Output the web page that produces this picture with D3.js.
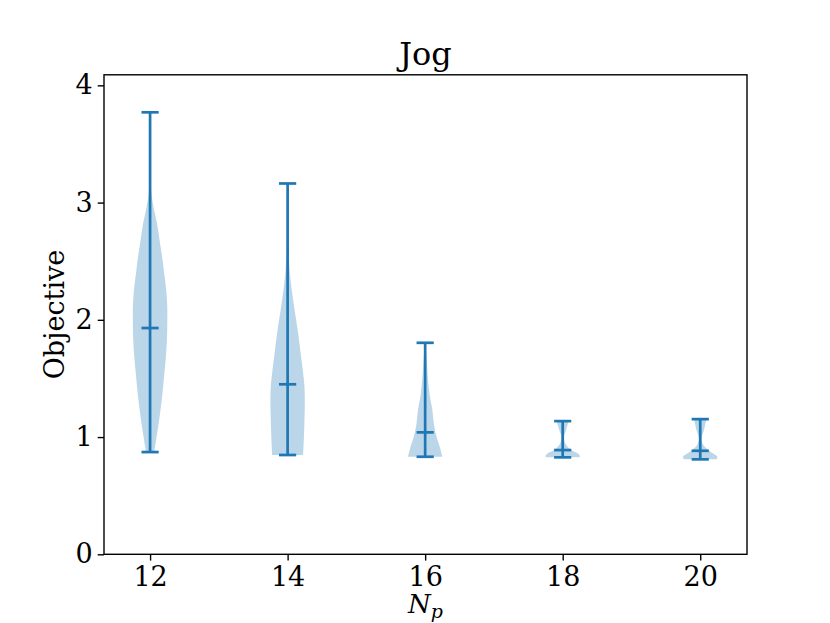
<!DOCTYPE html>
<html>
<head>
<meta charset="utf-8">
<script src="https://cdn.jsdelivr.net/npm/d3@7"></script>
<style>
  body { margin: 0; background: #fff; }
  svg text { font-family: "DejaVu Serif", serif; fill: #000; }
</style>
</head>
<body>
<div id="chart"></div>
<script>
// violin positions (N_p)
const positions = [12, 14, 16, 18, 20];
// extrema and medians
const minima = [0.872, 0.847, 0.832, 0.827, 0.810];
const maxima = [3.770, 3.163, 1.804, 1.136, 1.153];
const medians = [1.930, 1.450, 1.040, 0.889, 0.883];
// density outlines: [objective, relative half-width]
const profile12 = [[0.872, 0.24], [0.974, 0.35], [1.117, 0.50], [1.258, 0.63], [1.40, 0.74], [1.543, 0.83],
  [1.685, 0.92], [1.827, 0.98], [1.969, 1.0], [2.11, 1.0], [2.253, 0.94], [2.395, 0.82], [2.537, 0.70],
  [2.68, 0.55], [2.82, 0.41], [2.963, 0.20], [3.105, 0.06], [3.3, 0.02], [3.5, 0.006], [3.77, 0.002]];
const profile14 = [[0.847, 0.90], [1.003, 0.95], [1.145, 0.98], [1.287, 1.0], [1.429, 0.98], [1.571, 0.88],
  [1.713, 0.76], [1.855, 0.64], [1.997, 0.50], [2.14, 0.35], [2.28, 0.22], [2.424, 0.12], [2.71, 0.03],
  [2.99, 0.01], [3.163, 0.002]];
const profile16 = [[0.832, 1.0], [0.918, 0.85], [1.003, 0.66], [1.117, 0.50], [1.23, 0.42], [1.344, 0.28],
  [1.486, 0.17], [1.685, 0.08], [1.804, 0.02]];
const profile18 = [[0.827, 1.0], [0.852, 0.95], [0.889, 0.50], [0.946, 0.15], [1.003, 0.08], [1.06, 0.20],
  [1.136, 0.35]];
const profile20 = [[0.810, 0.95], [0.832, 1.0], [0.875, 0.60], [0.932, 0.18], [0.989, 0.08], [1.06, 0.22],
  [1.153, 0.35]];
const profiles = [profile12, profile14, profile16, profile18, profile20];
const yTicks = [0, 1, 2, 3, 4];

const width = 830, height = 623;
const margin = { left: 104, right: 747, top: 74.8, bottom: 554.3 };
const violinWidth = 0.5;
const color = "#1f77b4";

const svg = d3.select("#chart").append("svg")
  .attr("width", width)
  .attr("height", height);

let x = d3.scaleLinear().domain([11.33, 20.68]).range([margin.left, margin.right]);
let y = d3.scaleLinear().domain([0, 4.09]).range([margin.bottom, margin.top]);

// violin bodies
positions.forEach((p, i) => {
  let half = x(p + violinWidth / 2) - x(p);
  let area = d3.area()
    .curve(d3.curveCatmullRom)
    .y(d => y(d[0]))
    .x0(d => x(p) - d[1] * half)
    .x1(d => x(p) + d[1] * half);
  svg.append("path")
    .attr("d", area(profiles[i]))
    .style("fill", color)
    .style("fill-opacity", 0.3)
    .style("stroke", "none");
});

// bars, caps, medians
const lineW = 2.7;
positions.forEach((p, i) => {
  let g = svg.append("g").style("stroke", color).style("stroke-width", lineW);
  g.append("line")
    .attr("x1", x(p)).attr("x2", x(p))
    .attr("y1", y(minima[i])).attr("y2", y(maxima[i]));
  [minima[i], maxima[i], medians[i]].forEach(v => {
    g.append("line")
      .attr("x1", x(p - violinWidth / 4)).attr("x2", x(p + violinWidth / 4))
      .attr("y1", y(v)).attr("y2", y(v));
  });
});

// frame
svg.append("rect")
  .attr("x", margin.left).attr("y", margin.top)
  .attr("width", margin.right - margin.left).attr("height", margin.bottom - margin.top)
  .style("fill", "none")
  .style("stroke", "#000")
  .style("stroke-width", 1.4);

let xAxis = d3.axisBottom(x).tickValues(positions).tickSize(6.3).tickPadding(6);
let gx = svg.append("g")
  .attr("transform", "translate(0," + margin.bottom + ")")
  .call(xAxis);
gx.select(".domain").remove();
gx.selectAll("line").style("stroke-width", 1.4);
gx.selectAll("text").style("font-size", "27px").attr("fill", "#000");

let yAxis = d3.axisLeft(y).tickValues(yTicks).tickSize(6.3).tickPadding(5).tickFormat(d3.format("d"));
let gy = svg.append("g")
  .attr("transform", "translate(" + margin.left + ",0)")
  .call(yAxis);
gy.select(".domain").remove();
gy.selectAll("line").style("stroke-width", 1.4);
gy.selectAll("text").style("font-size", "27px").attr("fill", "#000");

// labels
svg.append("text")
  .attr("x", (margin.left + margin.right) / 2).attr("y", 65)
  .attr("text-anchor", "middle")
  .style("font-size", "32px")
  .text("Jog");

svg.append("text")
  .attr("transform", "translate(64," + ((margin.top + margin.bottom) / 2) + ") rotate(-90)")
  .attr("text-anchor", "middle")
  .style("font-size", "27px")
  .text("Objective");

let xl = svg.append("text")
  .attr("x", (margin.left + margin.right) / 2).attr("y", 613)
  .attr("text-anchor", "middle")
  .style("font-size", "26px")
  .style("font-style", "italic");
xl.append("tspan").text("N");
xl.append("tspan").attr("dy", 5).style("font-size", "19px").text("p");
</script>
</body>
</html>
